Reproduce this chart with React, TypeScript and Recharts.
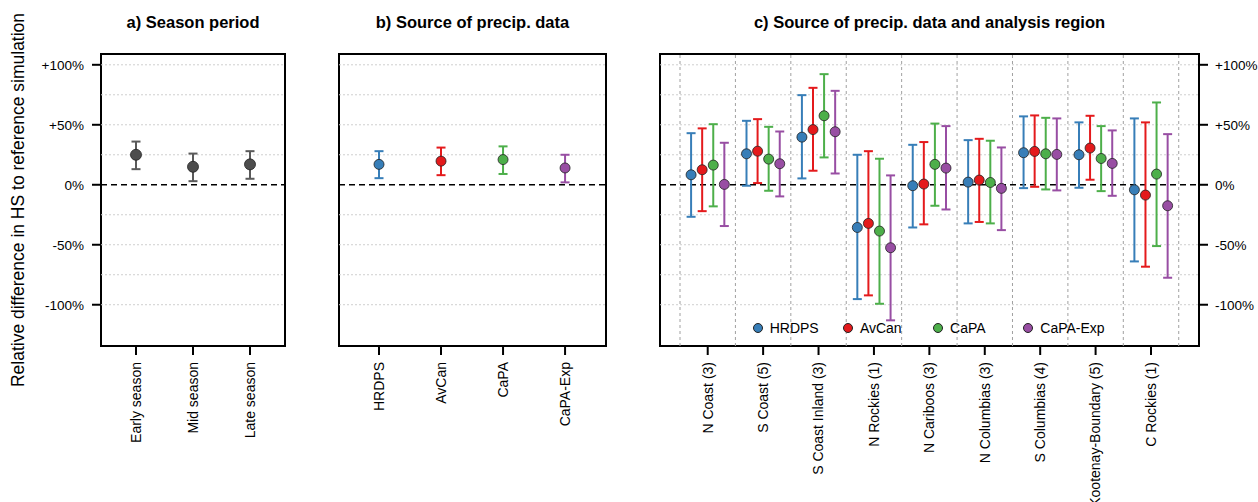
import React from "react";
import {
  ScatterChart,
  Scatter,
  XAxis,
  YAxis,
  ErrorBar,
  ReferenceLine,
  ReferenceArea,
} from "recharts";

// a) season period
const seasonLabels = ["Early season", "Mid season", "Late season"];
const seasonMid = [25, 15, 17];
const seasonLow = [13, 3, 5];
const seasonHigh = [36, 26, 28];

// b) source of precip data
const sourceNames = ["HRDPS", "AvCan", "CaPA", "CaPA-Exp"];
const sourceColors = ["#377EB8", "#E41A1C", "#4DAF4A", "#984EA3"];
const sourceMid = [17, 19.7, 21, 14];
const sourceLow = [5.5, 8, 9, 2];
const sourceHigh = [28, 31, 32, 25];

// c) source x region
const regionLabels = [
  "N Coast (3)",
  "S Coast (5)",
  "S Coast Inland (3)",
  "N Rockies (1)",
  "N Cariboos (3)",
  "N Columbias (3)",
  "S Columbias (4)",
  "Kootenay-Boundary (5)",
  "C Rockies (1)",
];
const hrdpsMid = [8.3, 25.8, 39.7, -35.6, -0.8, 2.2, 26.7, 25, -4.2];
const hrdpsLow = [-26.7, -0.8, 5.3, -95.3, -35.6, -32.2, -2.8, -2.5, -63.9];
const hrdpsHigh = [43, 53.3, 74.7, 25, 33.3, 37.2, 57, 52, 55.3];
const avcanMid = [12.5, 28, 46, -32.2, 0.6, 3.9, 27.8, 30.6, -8.6];
const avcanLow = [-22, 1.4, 11.7, -92.2, -33, -31, -1.7, 4.2, -68.3];
const avcanHigh = [47, 54.7, 80.8, 28, 35.6, 38.3, 57.8, 57.5, 52];
const capaMid = [16.4, 21.4, 57.5, -38.6, 17, 1.9, 25.8, 21.9, 8.9];
const capaLow = [-18, -5, 22.8, -99.2, -17.5, -32.2, -3.9, -5.3, -51.1];
const capaHigh = [50.5, 48.3, 92.2, 21.7, 51, 36.7, 55.8, 48.9, 68.6];
const capaExpMid = [0.3, 17.5, 44.2, -52.5, 13.9, -3, 25.3, 17.8, -17.5];
const capaExpLow = [-34.4, -9.7, 9.4, -113, -20.6, -37.8, -4.7, -9.2, -77.5];
const capaExpHigh = [35, 44.4, 78.3, 7.8, 48.9, 31.1, 55.3, 45.3, 42.2];

const yTicks = [-100, -50, 0, 50, 100];
const gridY = [-100, -75, -50, -25, 25, 50, 75, 100];

const FONT = '"Liberation Sans", Arial, Helvetica, sans-serif';
const Y_DOMAIN: [number, number] = [-134.4, 109];
const PLOT_TOP = 54;
const PLOT_BOTTOM = 346;
const H = 502;
const DODGE = 0.2;

const pct = (v: number) => (v > 0 ? `+${v}%` : `${v}%`);

const toPoints = (mid: number[], low: number[], high: number[], shift = 0) =>
  mid.map((m, i) => ({ x: i + 1 + shift, y: m, err: [m - low[i], high[i] - m] }));

type Series = { name: string; color: string; fill: string; data: any[] };

function RotTick(props: any) {
  const { x, y, payload, labels } = props;
  return (
    <text
      x={x}
      y={y}
      transform={`rotate(-90 ${x} ${y})`}
      textAnchor="end"
      dy="0.35em"
      fontSize={14}
      fill="#000"
      fontFamily={FONT}
    >
      {labels[Math.round(payload.value) - 1]}
    </text>
  );
}

function Panel(props: {
  left: number;
  width: number;
  plotLeft: number;
  plotRight: number;
  xDomain: [number, number];
  labels: string[];
  series: Series[];
  leftLabels?: boolean;
  rightLabels?: boolean;
  vlines?: number[];
  r?: number;
}) {
  const { left, width, plotLeft, plotRight, xDomain, labels, series, vlines = [], r = 5 } = props;
  const tickLine = { stroke: "#000", strokeWidth: 2 };
  const tickText = { fill: "#000", fontSize: 13.5, fontFamily: FONT };
  return (
    <div style={{ position: "absolute", left, top: 0 }}>
      <ScatterChart width={width} height={H} margin={{ top: PLOT_TOP, right: 0, bottom: 0, left: 0 }}>
        <XAxis
          type="number"
          dataKey="x"
          domain={xDomain}
          allowDataOverflow
          ticks={labels.map((_, i) => i + 1)}
          interval={0}
          height={H - PLOT_BOTTOM}
          tickSize={9}
          tickMargin={7}
          axisLine={false}
          stroke="#000"
          tickLine={tickLine}
          tick={(p: any) => <RotTick {...p} labels={labels} />}
        />
        <YAxis
          type="number"
          dataKey="y"
          domain={Y_DOMAIN}
          allowDataOverflow
          ticks={yTicks}
          interval={0}
          width={plotLeft - left}
          tickSize={9}
          tickMargin={8}
          axisLine={false}
          stroke="#000"
          tickLine={tickLine}
          tick={props.leftLabels ? tickText : false}
          tickFormatter={pct}
        />
        <YAxis
          yAxisId="r"
          orientation="right"
          type="number"
          domain={Y_DOMAIN}
          allowDataOverflow
          ticks={yTicks}
          interval={0}
          width={left + width - plotRight}
          tickSize={9}
          tickMargin={7}
          axisLine={false}
          stroke="#000"
          tickLine={tickLine}
          tick={props.rightLabels ? tickText : false}
          tickFormatter={pct}
        />
        {gridY.map((g) => (
          <ReferenceLine key={`g${g}`} y={g} stroke="#cfcfcf" strokeDasharray="2 2" strokeWidth={1} />
        ))}
        {vlines.map((v) => (
          <ReferenceLine key={`v${v}`} x={v} stroke="#a0a0a0" strokeDasharray="3 3" strokeWidth={1} />
        ))}
        <ReferenceLine y={0} stroke="#000" strokeDasharray="6 4" strokeWidth={1.5} />
        {series.map((s) => (
          <Scatter
            key={s.name}
            name={s.name}
            data={s.data}
            isAnimationActive={false}
            shape={(p: any) => (
              <circle cx={p.cx} cy={p.cy} r={r} fill={s.fill} stroke="#222" strokeWidth={0.8} />
            )}
          >
            <ErrorBar
              dataKey="err"
              direction="y"
              width={4.5}
              stroke={s.color}
              strokeWidth={2}
              isAnimationActive={false}
            />
          </Scatter>
        ))}
        <ReferenceArea
          x1={xDomain[0]}
          x2={xDomain[1]}
          y1={Y_DOMAIN[0]}
          y2={Y_DOMAIN[1]}
          fill="none"
          stroke="#000"
          strokeWidth={2}
          ifOverflow="visible"
        />
      </ScatterChart>
    </div>
  );
}

const titleStyle = (cx: number): React.CSSProperties => ({
  position: "absolute",
  left: cx,
  top: 13.5,
  transform: "translateX(-50%)",
  fontSize: 16.5,
  lineHeight: "16.5px",
  fontWeight: "bold",
  whiteSpace: "nowrap",
  fontFamily: FONT,
  color: "#000",
});

export default function App() {
  const seasonSeries: Series[] = [
    { name: "season", color: "#5a5a5a", fill: "#4d4d4d", data: toPoints(seasonMid, seasonLow, seasonHigh) },
  ];
  const sourceSeries: Series[] = sourceNames.map((n, i) => ({
    name: n,
    color: sourceColors[i],
    fill: sourceColors[i],
    data: [{ x: i + 1, y: sourceMid[i], err: [sourceMid[i] - sourceLow[i], sourceHigh[i] - sourceMid[i]] }],
  }));
  const regionSets = [
    [hrdpsMid, hrdpsLow, hrdpsHigh],
    [avcanMid, avcanLow, avcanHigh],
    [capaMid, capaLow, capaHigh],
    [capaExpMid, capaExpLow, capaExpHigh],
  ];
  const regionSeries: Series[] = sourceNames.map((n, i) => ({
    name: n,
    color: sourceColors[i],
    fill: sourceColors[i],
    data: toPoints(regionSets[i][0], regionSets[i][1], regionSets[i][2], (i - 1.5) * DODGE),
  }));
  const vlines = regionLabels.map((_, i) => i + 0.5).concat([regionLabels.length + 0.5]);

  return (
    <div style={{ position: "absolute", left: 0, top: 0, width: 1258, height: H, background: "#fff", fontFamily: FONT }}>
      <div
        style={{
          position: "absolute",
          left: 17.5,
          top: 200,
          transform: "translate(-50%, -50%) rotate(-90deg)",
          fontSize: 17.5,
          whiteSpace: "nowrap",
          color: "#000",
        }}
      >
        Relative difference in HS to reference simulation
      </div>
      <div style={titleStyle(193)}>a) Season period</div>
      <div style={titleStyle(472.5)}>b) Source of precip. data</div>
      <div style={titleStyle(929.5)}>c) Source of precip. data and analysis region</div>

      <Panel
        left={0}
        width={300}
        plotLeft={101}
        plotRight={285}
        xDomain={[0.386, 3.614]}
        labels={seasonLabels}
        series={seasonSeries}
        leftLabels
        r={5.5}
      />
      <Panel
        left={300}
        width={320}
        plotLeft={339}
        plotRight={606}
        xDomain={[0.355, 4.66]}
        labels={sourceNames}
        series={sourceSeries}
      />
      <Panel
        left={620}
        width={638}
        plotLeft={660}
        plotRight={1199}
        xDomain={[0.139, 9.866]}
        labels={regionLabels}
        series={regionSeries}
        rightLabels
        vlines={vlines}
      />

      {sourceNames.map((n, i) => (
        <div
          key={n}
          style={{
            position: "absolute",
            left: 752.7 + i * 90.2,
            top: 320,
            display: "flex",
            alignItems: "center",
            fontSize: 14,
            lineHeight: "16px",
            whiteSpace: "nowrap",
            color: "#000",
          }}
        >
          <span
            style={{
              display: "inline-block",
              width: 10,
              height: 10,
              borderRadius: "50%",
              background: sourceColors[i],
              border: "0.8px solid #222",
              boxSizing: "border-box",
              marginRight: 7,
            }}
          />
          {n}
        </div>
      ))}
    </div>
  );
}
